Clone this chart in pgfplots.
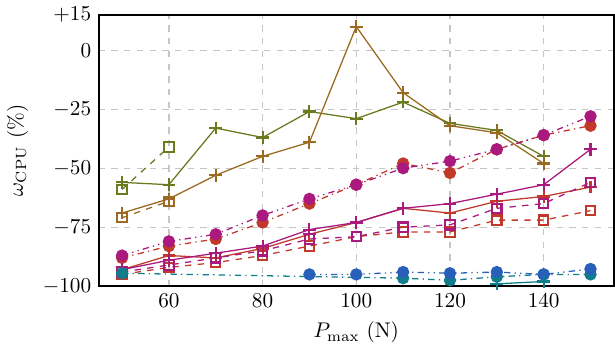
\documentclass[border=0pt]{standalone}
\usepackage{pgfplots}
\pgfplotsset{compat=1.18}
\definecolor{cOlive}{RGB}{107,122,30}
\definecolor{cBrown}{RGB}{153,106,32}
\definecolor{cMag}{RGB}{170,25,125}
\definecolor{cRed}{RGB}{192,57,43}
\definecolor{cBlue}{RGB}{40,95,185}
\definecolor{cTeal}{RGB}{16,125,140}
\begin{document}
\begin{tikzpicture}
\begin{axis}[
    scale only axis,
    width=243pt, height=128pt,
    xmin=45, xmax=155,
    ymin=-100, ymax=15,
    xtick={60,80,100,120,140},
    ytick={-100,-75,-50,-25,0,15},
    yticklabels={$-100$,$-75$,$-50$,$-25$,$0$,$+15$},
    major tick length=0pt,
    xmajorgrids=true, ymajorgrids=true,
    grid style={dashed, gray!45, line width=0.6pt},
    axis line style={line width=1pt},
    xlabel={$P_{\max}$ (N)},
    ylabel={$\omega_{\mathrm{CPU}}$ (\%)},
    every axis plot/.append style={line width=0.6pt},
    mark options={solid, line width=1pt},
]
% olive
\addplot[cOlive, mark=+, mark size=3pt] coordinates {
(50,-56) (60,-57) (70,-33) (80,-37) (90,-26) (100,-29) (110,-22) (120,-31) (130,-34) (140,-45)};
\addplot[cOlive, dashed, mark=square, mark size=2.2pt] coordinates {
(50,-59) (60,-41)};
% brown
\addplot[cBrown, mark=+, mark size=3pt] coordinates {
(50,-69) (60,-63) (70,-53) (80,-45) (90,-39) (100,10) (110,-18) (120,-32) (130,-35) (140,-48)};
\addplot[cBrown, dashed, mark=square, mark size=2.2pt] coordinates {
(50,-71) (60,-64)};
% red
\addplot[cRed, dashdotted, mark=*, mark size=2.4pt] coordinates {
(50,-88) (60,-83) (70,-80) (80,-73) (90,-65) (100,-57) (110,-48) (120,-52) (130,-42) (140,-36) (150,-32)};
\addplot[cRed, mark=+, mark size=3pt] coordinates {
(50,-93) (60,-87) (70,-88) (80,-84) (90,-78) (100,-73) (110,-67) (120,-69) (130,-64) (140,-62) (150,-58)};
\addplot[cRed, dashed, mark=square, mark size=2.2pt] coordinates {
(50,-95) (60,-92) (70,-90) (80,-87) (90,-83) (100,-79) (110,-77) (120,-77) (130,-72) (140,-72) (150,-68)};
% magenta
\addplot[cMag, dash dot dot, mark=*, mark size=2.4pt] coordinates {
(50,-87) (60,-81) (70,-78) (80,-70) (90,-63) (100,-57) (110,-50) (120,-47) (130,-42) (140,-36) (150,-28)};
\addplot[cMag, mark=+, mark size=3pt] coordinates {
(50,-93) (60,-89) (70,-86) (80,-83) (90,-76) (100,-73) (110,-67) (120,-65) (130,-61) (140,-57) (150,-42)};
\addplot[cMag, dashed, mark=square, mark size=2.2pt] coordinates {
(50,-94) (60,-91) (70,-88) (80,-85) (90,-80) (100,-79) (110,-75) (120,-74) (130,-67) (140,-65) (150,-56)};
% teal and blue
\addplot[cTeal, dashdotted, mark=*, mark size=2.4pt] coordinates {
(50,-94.5) (110,-96.6) (120,-97.5) (130,-96) (140,-95) (150,-95)};
\addplot[cBlue, dash dot dot, mark=*, mark size=2.4pt] coordinates {
(90,-95) (100,-95) (110,-94) (120,-94.5) (130,-94) (140,-95) (150,-92.7)};
\addplot[cTeal, mark=+, mark size=3pt] coordinates {
(130,-99) (140,-98)};
\end{axis}
\end{tikzpicture}
\end{document}
